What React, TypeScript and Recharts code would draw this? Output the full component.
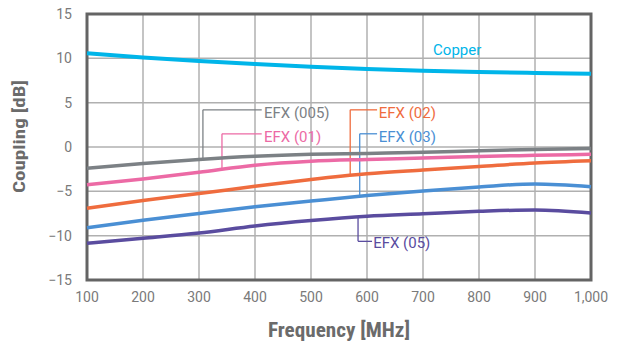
import {
  LineChart,
  Line,
  XAxis,
  YAxis,
  CartesianGrid,
  ReferenceArea,
  ReferenceLine,
  ReferenceDot,
} from "recharts";

const freqs = [100, 200, 300, 400, 500, 600, 700, 800, 900, 1000];
const copper = [10.56, 10.1, 9.7, 9.36, 9.06, 8.8, 8.6, 8.46, 8.35, 8.27];
const efx005 = [-2.4, -1.85, -1.4, -1.05, -0.83, -0.72, -0.6, -0.42, -0.27, -0.16];
const efx01 = [-4.25, -3.6, -2.85, -2.05, -1.6, -1.4, -1.25, -1.07, -0.94, -0.83];
const efx02 = [-6.9, -6.03, -5.25, -4.43, -3.67, -3.03, -2.6, -2.2, -1.8, -1.55];
const efx03 = [-9.1, -8.25, -7.5, -6.75, -6.1, -5.47, -4.95, -4.5, -4.17, -4.47];
const efx05 = [-10.86, -10.3, -9.7, -8.9, -8.28, -7.8, -7.53, -7.26, -7.1, -7.44];

const xTicks = [100, 200, 300, 400, 500, 600, 700, 800, 900, 1000];
const yTicks = [-15, -10, -5, 0, 5, 10, 15];

const data = freqs.map((f, i) => ({
  f,
  copper: copper[i],
  efx005: efx005[i],
  efx01: efx01[i],
  efx02: efx02[i],
  efx03: efx03[i],
  efx05: efx05[i],
}));

const C = {
  copper: "#00b5e9",
  efx005: "#7c8185",
  efx01: "#ec6aa5",
  efx02: "#ef6c3e",
  efx03: "#4a8fd4",
  efx05: "#5a4c9f",
};

const FONT = "Roboto, 'Noto Sans', sans-serif";
const TITLE_FONT = "'Liberation Sans Narrow', 'Roboto Condensed', Roboto, sans-serif";

// leader lines for the series labels, in data coords
const leaders = [
  { color: C.efx005, pts: [[307, -1.37], [307, 4.19], [412, 4.19]] },
  { color: C.efx01, pts: [[341, -2.55], [341, 1.49], [412, 1.49]] },
  { color: C.efx02, pts: [[570, -3.2], [570, 4.19], [618, 4.19]] },
  { color: C.efx03, pts: [[587, -5.5], [587, 1.49], [618, 1.49]] },
  { color: C.efx05, pts: [[584, -7.8], [584, -10.64], [609, -10.64]] },
];

const labels = [
  { text: "Copper", x: 718, y: 10.95, color: C.copper },
  { text: "EFX (005)", x: 416, y: 3.85, color: C.efx005 },
  { text: "EFX (01)", x: 416, y: 1.16, color: C.efx01 },
  { text: "EFX (02)", x: 621, y: 3.85, color: C.efx02 },
  { text: "EFX (03)", x: 621, y: 1.16, color: C.efx03 },
  { text: "EFX (05)", x: 611, y: -10.87, color: C.efx05 },
];

const fmtX = (v: number) => v.toLocaleString("en-US");
const fmtY = (v: number) => (v < 0 ? "\u2212" + Math.abs(v) : String(v));

export default function App() {
  return (
    <div style={{ position: "absolute", left: 0, top: 0, background: "#fff" }}>
      <LineChart
        width={625}
        height={346}
        data={data}
        margin={{ top: 14, right: 34, bottom: 26, left: 27 }}
      >
        <CartesianGrid stroke="#b0b0b0" strokeWidth={1.5} />
        <XAxis
          dataKey="f"
          type="number"
          domain={[100, 1000]}
          ticks={xTicks}
          tickFormatter={fmtX}
          height={40}
          axisLine={false}
          tickLine={false}
          tickSize={0}
          tickMargin={12}
          tick={{ fill: "#7a7a7a", fontSize: 14, fontFamily: FONT }}
          label={{
            content: ({ viewBox }: any) => (
              <text
                x={viewBox.x + viewBox.width / 2}
                y={viewBox.y + viewBox.height + 17}
                textAnchor="middle"
                fill="#6b6b6b"
                fontSize={21}
                fontWeight="bold"
                fontFamily={TITLE_FONT}
                textLength={142}
                lengthAdjust="spacingAndGlyphs"
              >
                Frequency [MHz]
              </text>
            ),
          }}
        />
        <YAxis
          type="number"
          domain={[-15, 15]}
          ticks={yTicks}
          tickFormatter={fmtY}
          width={60}
          axisLine={false}
          tickLine={false}
          tickSize={0}
          tickMargin={15}
          tick={{ fill: "#7a7a7a", fontSize: 14, fontFamily: FONT }}
          label={{
            content: () => (
              <text
                x={0}
                y={0}
                transform="translate(25,136.5) rotate(-90)"
                textAnchor="middle"
                fill="#6b6b6b"
                fontSize={17}
                fontWeight="bold"
                fontFamily={TITLE_FONT}
                textLength={113}
                lengthAdjust="spacingAndGlyphs"
              >
                Coupling [dB]
              </text>
            ),
          }}
        />
        {leaders.map((l, i) =>
          l.pts.slice(1).map((p, j) => (
            <ReferenceLine
              key={`ld-${i}-${j}`}
              segment={[
                { x: l.pts[j][0], y: l.pts[j][1] },
                { x: p[0], y: p[1] },
              ]}
              stroke={l.color}
              strokeWidth={1.3}
            />
          ))
        )}
        <Line type="monotone" dataKey="copper" stroke={C.copper} strokeWidth={4} dot={false} isAnimationActive={false} />
        <Line type="monotone" dataKey="efx005" stroke={C.efx005} strokeWidth={3.5} dot={false} isAnimationActive={false} />
        <Line type="monotone" dataKey="efx01" stroke={C.efx01} strokeWidth={3.5} dot={false} isAnimationActive={false} />
        <Line type="monotone" dataKey="efx02" stroke={C.efx02} strokeWidth={3.5} dot={false} isAnimationActive={false} />
        <Line type="monotone" dataKey="efx03" stroke={C.efx03} strokeWidth={3.5} dot={false} isAnimationActive={false} />
        <Line type="monotone" dataKey="efx05" stroke={C.efx05} strokeWidth={3.5} dot={false} isAnimationActive={false} />
        <ReferenceArea
          x1={100}
          x2={1000}
          y1={-15}
          y2={15}
          fill="none"
          fillOpacity={0}
          stroke="#646464"
          strokeWidth={3}
        />
        {labels.map((l) => (
          <ReferenceDot
            key={l.text}
            x={l.x}
            y={l.y}
            r={0}
            shape={(p: any) => (
              <text
                x={p.cx}
                y={p.cy + 5}
                fill={l.color}
                fontSize={15}
                fontFamily={FONT}
              >
                {l.text}
              </text>
            )}
          />
        ))}
      </LineChart>
    </div>
  );
}
